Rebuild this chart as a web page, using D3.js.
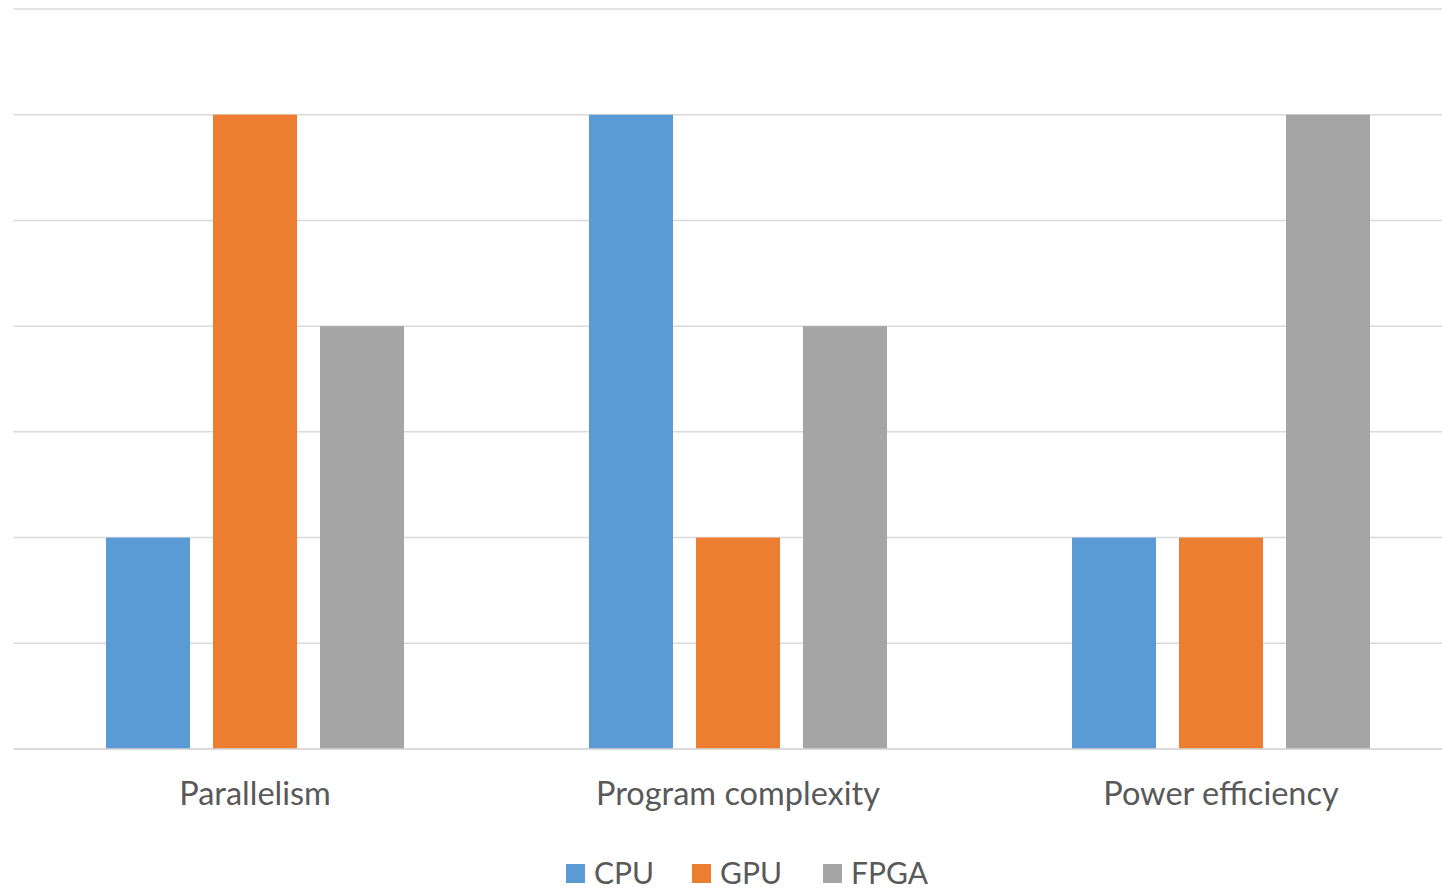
<!DOCTYPE html>
<html><head><meta charset="utf-8">
<script src="https://cdn.jsdelivr.net/npm/d3@7"></script>
<style>html,body{margin:0;padding:0;background:#fff;overflow:hidden}svg{display:block}</style>
</head><body>
<svg id="c" width="1442" height="890"></svg>
<script>
const categories = ["Parallelism", "Program complexity", "Power efficiency"];
const seriesNames = ["CPU", "GPU", "FPGA"];
const cpuValues = [2, 6, 2];
const gpuValues = [6, 2, 2];
const fpgaValues = [4, 4, 6];
const yTicks = [0, 1, 2, 3, 4, 5, 6, 7];
const colors = ["#5B9BD5", "#ED7D31", "#A5A5A5"];
const seriesValues = [cpuValues, gpuValues, fpgaValues];

const svg = d3.select("#c");
const font = "Lato, 'Open Sans', sans-serif";
const plotLeft = 13.5, plotRight = 1462.5, plotTop = 9, plotBottom = 749;

const x0 = d3.scaleBand().domain(categories).range([plotLeft, plotRight]).paddingInner(0).paddingOuter(0);
const x1 = d3.scaleBand().domain(seriesNames).range([92.5, 483 - 92.5]).paddingInner(23/107).paddingOuter(0);
const y = d3.scaleLinear().domain([0, 7]).range([plotBottom, plotTop]);

svg.append("g").selectAll("line").data(yTicks).join("line")
  .attr("x1", plotLeft).attr("x2", plotRight)
  .attr("y1", d => y(d)).attr("y2", d => y(d))
  .attr("stroke", "#D9D9D9").attr("stroke-width", 1.5);

const g = svg.append("g");
categories.forEach((c, ci) => {
  seriesNames.forEach((s, si) => {
    g.append("rect")
      .attr("x", x0(c) + x1(s))
      .attr("y", y(seriesValues[si][ci]))
      .attr("width", x1.bandwidth())
      .attr("height", y(0) - y(seriesValues[si][ci]))
      .attr("fill", colors[si]);
  });
});

svg.append("line").attr("x1", plotLeft).attr("x2", plotRight).attr("y1", y(0)).attr("y2", y(0))
  .attr("stroke", "#D9D9D9").attr("stroke-width", 1.5);

svg.append("g").selectAll("text").data(categories).join("text")
  .attr("x", d => x0(d) + x0.bandwidth() / 2)
  .attr("y", 805)
  .attr("text-anchor", "middle")
  .attr("font-family", font).attr("font-size", 32.5)
  .attr("fill", "#595959")
  .text(d => d);

const legendX = [566, 692, 823];
const lg = svg.append("g");
seriesNames.forEach((s, i) => {
  lg.append("rect").attr("x", legendX[i]).attr("y", 864).attr("width", 19).attr("height", 19).attr("fill", colors[i]);
  lg.append("text").attr("x", legendX[i] + 28).attr("y", 884)
    .attr("font-family", font).attr("font-size", 30).attr("fill", "#595959").text(s);
});
</script>
</body></html>
